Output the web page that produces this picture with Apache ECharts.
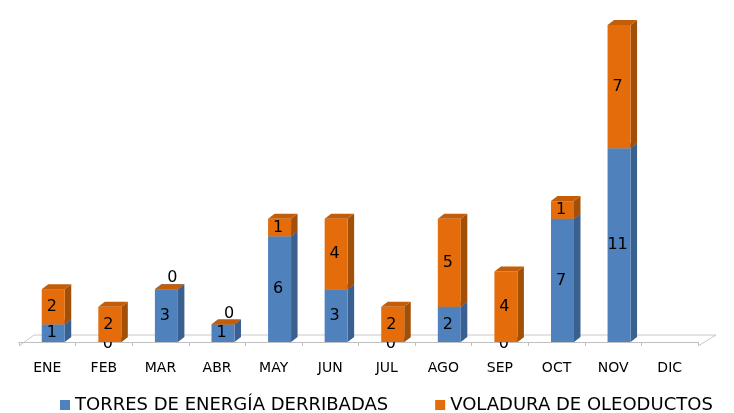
<!DOCTYPE html>
<html>
<head>
<meta charset="utf-8">
<script src="https://cdn.jsdelivr.net/npm/echarts@6/dist/echarts.min.js"></script>
<style>
html,body{margin:0;padding:0;background:#fff;}
#chart{width:734px;height:413px;}
</style>
</head>
<body>
<div id="chart"></div>
<script>
var months = ['ENE','FEB','MAR','ABR','MAY','JUN','JUL','AGO','SEP','OCT','NOV','DIC'];
var torres = [1,0,3,1,6,3,0,2,0,7,11,null];
var voladura = [2,2,0,0,1,4,2,5,4,1,7,null];
var seriesNames = ['TORRES DE ENERGÍA DERRIBADAS','VOLADURA DE OLEODUCTOS'];

var FONT = 'DejaVu Sans, Verdana, sans-serif';
var colors = {
  blue: {front:'#4F81BD', side:'#3A6090', top:'#4472A8'},
  orange: {front:'#E46C0A', side:'#A24F08', top:'#C45C08'}
};

function buildData(vals, bases){
  var out = [];
  for (var i=0;i<vals.length;i++){
    if (vals[i] === null) continue;
    out.push([i, bases ? bases[i] : 0, vals[i]]);
  }
  return out;
}

function makeRender(pal, isTop){
  return function(params, api){
    var i = api.value(0), base = api.value(1), v = api.value(2);
    var bw = api.size([1,0])[0];
    var c = api.coord([i, base]);
    var t = api.coord([i, base + v]);
    var cx = c[0] + bw*0.105;
    var hw = 11.5, dx = 6.5, dy = 5;
    var yb = c[1], yt = t[1];
    var children = [
      {type:'polygon', shape:{points:[[cx+hw,yt],[cx+hw+dx,yt-dy],[cx+hw+dx,yb-dy],[cx+hw,yb]]}, style:{fill:pal.side}},
      {type:'rect', shape:{x:cx-hw, y:yt, width:hw*2, height:yb-yt}, style:{fill:pal.front}},
      {type:'polygon', shape:{points:[[cx-hw,yt],[cx-hw+dx,yt-dy],[cx+hw+dx,yt-dy],[cx+hw,yt]]}, style:{fill:pal.top}}
    ];
    var lx, ly;
    if (v > 0){ lx = cx - 1.5; ly = (yt+yb)/2; }
    else if (isTop){ lx = cx + 6; ly = yt - 11; }
    else { lx = cx - 2; ly = yb + 2; }
    children.push({type:'text', x:lx, y:ly, style:{text:String(v), fill:'#000', font:'16px '+FONT, align:'center', verticalAlign:'middle'}});
    return {type:'group', children: children};
  };
}

var chart = echarts.init(document.getElementById('chart'));
var option = {
  animation:false,
  grid:{left:19, right:36, top:7.4, bottom:71},
  legend:{
    data:seriesNames, left:55, top:391, itemWidth:10, itemHeight:10, icon:'rect', itemGap:47,
    textStyle:{fontFamily:FONT, fontSize:18, color:'#000'}
  },
  xAxis:{
    type:'category', data:months, offset:4,
    axisLine:{show:true, lineStyle:{color:'#BFBFBF', width:1}},
    axisTick:{show:true, length:4, lineStyle:{color:'#BFBFBF'}},
    axisLabel:{fontFamily:FONT, fontSize:14, color:'#000', margin:15}
  },
  yAxis:{type:'value', min:0, max:19, show:false, splitLine:{show:false}},
  series:[
    {
      type:'custom', name:'floor', silent:true, clip:false, z:1,
      data:[[0,0]], encode:{x:0,y:1},
      renderItem:function(params, api){
        var bw = api.size([1,0])[0];
        var p0 = api.coord([0,0]);
        var p1 = api.coord([months.length-1,0]);
        var x0 = p0[0]-bw/2, x1 = p1[0]+bw/2, y = p0[1]+4;
        return {type:'polyline', shape:{points:[[x0,y],[x0+15,y-11],[x1+18,y-11],[x1,y]]},
          style:{stroke:'#C8C8C8', fill:null, lineWidth:1}};
      }
    },
    {
      type:'custom', name:seriesNames[0], clip:false, z:2,
      itemStyle:{color:colors.blue.front},
      data:buildData(torres, null), encode:{x:0, y:2},
      renderItem:makeRender(colors.blue, false)
    },
    {
      type:'custom', name:seriesNames[1], clip:false, z:3,
      itemStyle:{color:colors.orange.front},
      data:buildData(voladura, torres), encode:{x:0, y:2},
      renderItem:makeRender(colors.orange, true)
    }
  ]
};
chart.setOption(option);
</script>
</body>
</html>
